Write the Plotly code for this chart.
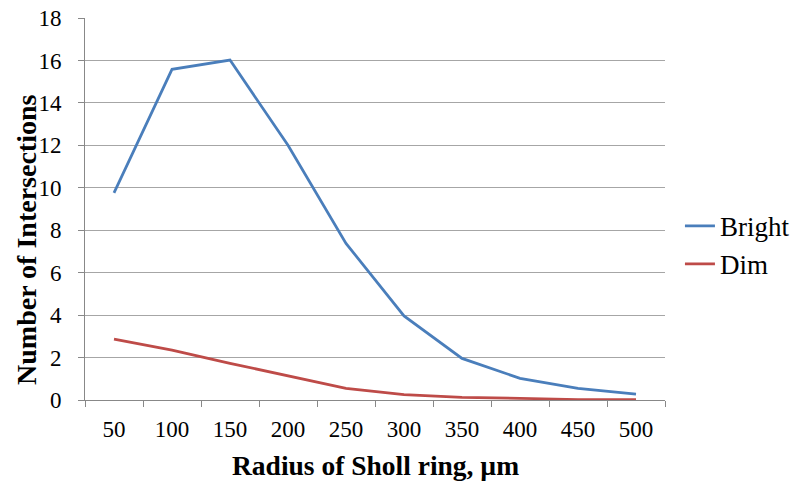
import plotly.graph_objects as go

radius = ["50", "100", "150", "200", "250", "300", "350", "400", "450", "500"]
bright = [9.76, 15.58, 16.02, 12.0, 7.38, 3.96, 1.96, 1.02, 0.55, 0.28]
dim = [2.87, 2.35, 1.73, 1.13, 0.55, 0.25, 0.12, 0.08, 0.02, 0.02]

font_family = "Liberation Serif"

fig = go.Figure()
fig.add_trace(go.Scatter(x=radius, y=bright, mode="lines", name="Bright",
                         line=dict(color="#4a7ebb", width=2.75)))
fig.add_trace(go.Scatter(x=radius, y=dim, mode="lines", name="Dim",
                         line=dict(color="#be4b48", width=2.75)))

fig.update_layout(
    width=799, height=490,
    margin=dict(l=85, r=134, t=18, b=90),
    paper_bgcolor="white", plot_bgcolor="white",
    font=dict(family=font_family, size=23, color="black"),
    legend=dict(xref="container", x=0.851, y=0.405, yanchor="middle", xanchor="left",
                font=dict(family=font_family, size=27),
                itemwidth=30),
    showlegend=True,
    annotations=[
        dict(text="<b>Number of Intersections</b>", textangle=-90,
             xref="paper", yref="paper", x=-0.1, y=0.419,
             xanchor="center", yanchor="middle", showarrow=False,
             font=dict(family=font_family, size=28, color="black")),
        dict(text="<b>Radius of Sholl ring, µm</b>",
             xref="paper", yref="paper", x=0.5, y=-0.172,
             xanchor="center", yanchor="middle", showarrow=False,
             font=dict(family=font_family, size=27.5, color="black")),
    ],
)
fig.update_xaxes(
    type="category", range=[-0.5, 9.5], automargin=False,
    showline=True, linecolor="#888888", linewidth=1,
    ticks="outside", tickson="boundaries", ticklen=6, tickcolor="#888888",
    ticklabelstandoff=8,
    showgrid=False, tickfont=dict(family=font_family, size=23),
)
fig.update_yaxes(
    range=[0, 18], dtick=2, automargin=False,
    showline=True, linecolor="#888888", linewidth=1,
    ticks="outside", ticklen=6, tickcolor="#888888", ticklabelstandoff=12,
    showgrid=True, gridcolor="#a6a6a6", gridwidth=1,
    zeroline=False, tickfont=dict(family=font_family, size=23),
)

fig.write_html("out.html", config={"displayModeBar": False},
               post_script="document.body.style.margin='0';")
